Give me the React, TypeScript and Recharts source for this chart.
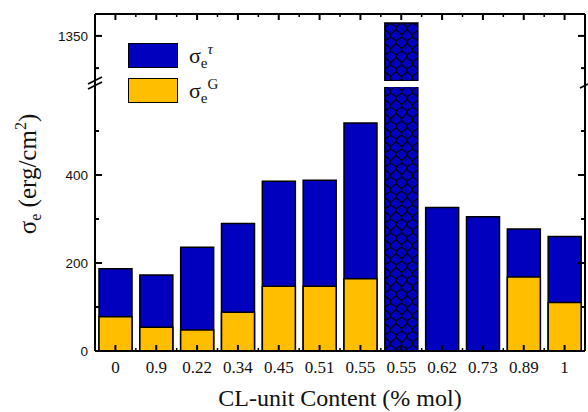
import React from 'react';
import { ComposedChart, Bar, Cell, XAxis, YAxis, Legend } from 'recharts';

// CL-unit content categories (the 0.55 sample appears twice, second one is the patterned bar)
const categories = ['0', '0.9', '0.22', '0.34', '0.45', '0.51', '0.55', '0.55', '0.62', '0.73', '0.89', '1'];
const sigmaTau = [187, 173, 236, 290, 386, 388, 518, 1370, 326, 305, 277, 260];
const sigmaG: (number | null)[] = [78, 54, 48, 88, 147, 147, 164, null, null, null, 168, 110];

const lowerDomain = [0, 600];
const upperDomain = [1280, 1384];
const lowerTicks = [0, 100, 200, 300, 400, 500];
const lowerMajor = [0, 200, 400];
const upperTicks = [1300, 1350];
const upperMajor = [1350];
const PATTERNED = 7;

const data = categories.map((name, i) => ({ name, tau: sigmaTau[i], g: sigmaG[i] }));
// only values reaching above the break go to the upper panel
const above = (v: number | null) => (v != null && v > upperDomain[0] ? v : null);
const upperData = categories.map((name, i) => ({ name, tau: above(sigmaTau[i]), g: above(sigmaG[i]) }));

const BLUE = '#0000BE';
const YELLOW = '#FFBE00';
const SERIF = '"Liberation Serif", "Times New Roman", serif';
const SANS = '"Liberation Sans", Arial, sans-serif';
const TICK = '#000';

const W = 588;
const H = 412;
const PLOT_L = 95;
const PLOT_R = 585;
const BAND = (PLOT_R - PLOT_L) / categories.length;

const BottomTick = (props: any) => {
  const { x, y, payload, index } = props;
  return (
    <g>
      <path d={`M${x},${y}V${y - 6}`} stroke={TICK} strokeWidth={2} />
      {index < categories.length - 1 && (
        <path d={`M${x + BAND / 2},${y}V${y - 3}`} stroke={TICK} strokeWidth={1.5} />
      )}
      <text x={x} y={y + 22} textAnchor="middle" fontFamily={SERIF} fontSize={17} fill="#111">
        {payload.value}
      </text>
    </g>
  );
};

const TopTick = (props: any) => {
  const { x, y, index } = props;
  return (
    <g>
      <path d={`M${x},${y}V${y + 6}`} stroke={TICK} strokeWidth={2} />
      {index < categories.length - 1 && (
        <path d={`M${x + BAND / 2},${y}V${y + 3}`} stroke={TICK} strokeWidth={1.5} />
      )}
    </g>
  );
};

const makeLeftTick = (major: number[]) => (props: any) => {
  const { x, y, payload } = props;
  const isMajor = major.includes(payload.value);
  return (
    <g>
      <path d={`M${x},${y}H${x + (isMajor ? 7 : 4)}`} stroke={TICK} strokeWidth={2} />
      {isMajor && (
        <text x={x - 7} y={y + 5} textAnchor="end" fontFamily={SANS} fontSize={13.5} fill="#111">
          {payload.value}
        </text>
      )}
    </g>
  );
};

const makeRightTick = (major: number[]) => (props: any) => {
  const { x, y, payload } = props;
  const isMajor = major.includes(payload.value);
  return <path d={`M${x},${y}H${x - (isMajor ? 7 : 4)}`} stroke={TICK} strokeWidth={2} />;
};

const ScalePattern = ({ id }: { id: string }) => (
  <defs>
    <pattern id={id} width={11} height={14} patternUnits="userSpaceOnUse">
      <rect width={11} height={14} fill={BLUE} />
      <path
        d="M0 0 C0 5 5.5 3 5.5 8 C5.5 3 11 5 11 0 M5.5 8 C5.5 12 0 10 0 14 M5.5 8 C5.5 12 11 10 11 14"
        fill="none"
        stroke="#000"
        strokeWidth={1.1}
      />
    </pattern>
  </defs>
);

const LegendContent = () => {
  const rows = [
    { color: BLUE, sup: 'τ', italic: true },
    { color: YELLOW, sup: 'G', italic: false },
  ];
  return (
    <div>
      {rows.map((r, i) => (
        <div key={i} style={{ display: 'flex', alignItems: 'center', height: 25, marginBottom: i === 0 ? 10 : 0 }}>
          <div style={{ width: 48, height: 23, background: r.color, border: '1.5px solid #000' }} />
          <span style={{ fontFamily: SERIF, fontSize: 22, marginLeft: 11, color: '#111', lineHeight: '22px' }}>
            σ
            <sub style={{ fontSize: 15, verticalAlign: -5 }}>e</sub>
            <sup style={{ fontSize: 15, verticalAlign: 9, fontStyle: r.italic ? 'italic' : 'normal' }}>{r.sup}</sup>
          </span>
        </div>
      ))}
    </div>
  );
};

const axisLine = { stroke: '#000', strokeWidth: 2 };
const layer: React.CSSProperties = { position: 'absolute', left: 0, top: 0 };

export default function App() {
  const lowerTick = makeLeftTick(lowerMajor);
  const lowerRight = makeRightTick(lowerMajor);
  const upperTick = makeLeftTick(upperMajor);
  const upperRight = makeRightTick(upperMajor);

  return (
    <div style={{ position: 'absolute', left: 0, top: 0, width: W, height: H, background: '#fff' }}>
      {/* lower segment bars: 0 - 600 */}
      <div style={layer}>
        <ComposedChart width={W} height={H} data={data} margin={{ top: 87, right: W - PLOT_R, bottom: 61, left: PLOT_L }}>
          <ScalePattern id="scalesLow" />
          <XAxis dataKey="name" hide />
          <XAxis xAxisId="g" dataKey="name" hide />
          <YAxis type="number" domain={lowerDomain} allowDataOverflow hide />
          <YAxis yAxisId="r" type="number" domain={lowerDomain} allowDataOverflow hide />
          <Bar dataKey="tau" barSize={33} fill={BLUE} stroke="#000" strokeWidth={1.5} isAnimationActive={false}>
            {data.map((_, i) => (
              <Cell key={i} fill={i === PATTERNED ? 'url(#scalesLow)' : BLUE} />
            ))}
          </Bar>
          <Bar
            dataKey="g"
            xAxisId="g"
            yAxisId="r"
            barSize={33}
            fill={YELLOW}
            stroke="#000"
            strokeWidth={1.5}
            isAnimationActive={false}
          />
        </ComposedChart>
      </div>

      {/* upper segment: above the axis break */}
      <div style={layer}>
        <ComposedChart width={W} height={H} data={upperData} margin={{ top: 4, right: 0, bottom: 331, left: 55 }}>
          <ScalePattern id="scalesHigh" />
          <XAxis
            dataKey="name"
            orientation="top"
            interval={0}
            height={10}
            tickSize={0}
            tickMargin={0}
            tick={TopTick}
            axisLine={axisLine}
          />
          <XAxis xAxisId="g" dataKey="name" hide />
          <YAxis
            type="number"
            domain={upperDomain}
            allowDataOverflow
            ticks={upperTicks}
            width={40}
            tickSize={0}
            tickMargin={0}
            tick={upperTick}
            axisLine={axisLine}
          />
          <YAxis
            yAxisId="r"
            orientation="right"
            type="number"
            domain={upperDomain}
            allowDataOverflow
            ticks={upperTicks}
            width={3}
            tickSize={0}
            tickMargin={0}
            tick={upperRight}
            axisLine={axisLine}
          />
          <Bar dataKey="tau" barSize={33} fill={BLUE} stroke="#000" strokeWidth={1.5} isAnimationActive={false}>
            {upperData.map((_, i) => (
              <Cell key={i} fill={i === PATTERNED ? 'url(#scalesHigh)' : BLUE} />
            ))}
          </Bar>
          <Bar
            dataKey="g"
            xAxisId="g"
            yAxisId="r"
            barSize={33}
            fill={YELLOW}
            stroke="#000"
            strokeWidth={1.5}
            isAnimationActive={false}
          />
        </ComposedChart>
      </div>

      {/* lower segment axes, drawn above the bars (invisible bar keeps the band layout) */}
      <div style={layer}>
        <ComposedChart width={W} height={H} data={data} margin={{ top: 87, right: 0, bottom: 31, left: 55 }}>
          <XAxis
            dataKey="name"
            interval={0}
            height={30}
            tickSize={0}
            tickMargin={0}
            tick={BottomTick}
            axisLine={axisLine}
          />
          <YAxis
            type="number"
            domain={lowerDomain}
            allowDataOverflow
            ticks={lowerTicks}
            width={40}
            tickSize={0}
            tickMargin={0}
            tick={lowerTick}
            axisLine={axisLine}
          />
          <YAxis
            yAxisId="r"
            orientation="right"
            type="number"
            domain={lowerDomain}
            allowDataOverflow
            ticks={lowerTicks}
            width={3}
            tickSize={0}
            tickMargin={0}
            tick={lowerRight}
            axisLine={axisLine}
          />
          <Bar dataKey="g" barSize={33} fill="none" stroke="none" isAnimationActive={false} />
          <Legend
            layout="horizontal"
            verticalAlign="middle"
            content={<LegendContent />}
            wrapperStyle={{ left: 128, top: 43, width: 130 }}
          />
        </ComposedChart>
      </div>

      {/* axis break marks, axis titles */}
      <svg width={W} height={H} style={{ ...layer, pointerEvents: 'none' }}>
        <line x1={PLOT_L} y1={80} x2={PLOT_L} y2={88} stroke="#000" strokeWidth={2} />
        <line x1={PLOT_R} y1={80} x2={PLOT_R} y2={88} stroke="#000" strokeWidth={2} />
        <line x1={88} y1={84} x2={102} y2={77} stroke="#000" strokeWidth={1.6} />
        <line x1={88} y1={89} x2={102} y2={82} stroke="#000" strokeWidth={1.6} />
        <line x1={580} y1={88} x2={588} y2={84} stroke="#000" strokeWidth={1.6} />
        <text
          transform="translate(36,174) rotate(-90)"
          textAnchor="middle"
          fontFamily={SERIF}
          fontSize={25}
          fill="#111"
        >
          σ<tspan fontSize={16} dy={5}>e</tspan>
          <tspan dy={-5}> (erg/cm</tspan>
          <tspan fontSize={16} dy={-10}>2</tspan>
          <tspan dy={10}>)</tspan>
        </text>
        <text x={340} y={406} textAnchor="middle" fontFamily={SERIF} fontSize={24} fill="#111">
          CL-unit Content (% mol)
        </text>
      </svg>
    </div>
  );
}
